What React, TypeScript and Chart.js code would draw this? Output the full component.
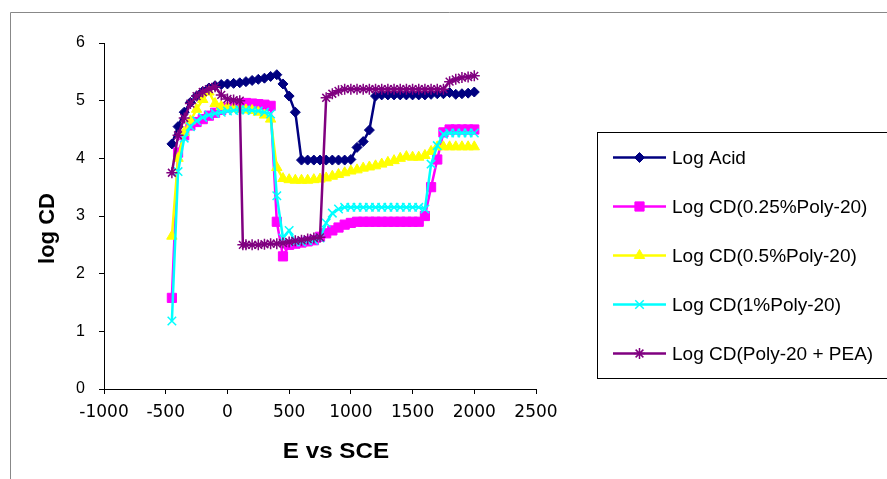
import React, { useEffect, useRef } from 'react';
import { Chart, registerables } from 'chart.js';
import { drawPoint } from 'chart.js/helpers';

Chart.register(...registerables);

// Potential (mV vs SCE) for the first four series
const E = [
  -450, -400, -350, -300, -250, -200, -150, -100, -50, 0,
  50, 100, 150, 200, 250, 300, 350, 400, 450, 500,
  550, 600, 650, 700, 750, 800, 850, 900, 950, 1000,
  1050, 1100, 1150, 1200, 1250, 1300, 1350, 1400, 1450, 1500,
  1550, 1600, 1650, 1700, 1750, 1800, 1850, 1900, 1950, 2000,
];

const LOG_ACID = [
  4.25, 4.55, 4.8, 4.97, 5.08, 5.16, 5.22, 5.26, 5.28, 5.29,
  5.3, 5.31, 5.33, 5.35, 5.37, 5.39, 5.42, 5.45, 5.29, 5.08,
  4.8, 3.97, 3.97, 3.97, 3.97, 3.97, 3.97, 3.97, 3.97, 3.98,
  4.19, 4.29, 4.49, 5.08, 5.1, 5.1, 5.1, 5.1, 5.1, 5.1,
  5.1, 5.1, 5.11, 5.12, 5.12, 5.14, 5.11, 5.12, 5.13, 5.15,
];

const LOG_CD_025 = [
  1.58, 4.1, 4.4, 4.57, 4.63, 4.68, 4.74, 4.79, 4.84, 4.88,
  4.92, 4.95, 4.96, 4.95, 4.94, 4.93, 4.91, 2.9, 2.3, 2.5,
  2.52, 2.54, 2.56, 2.58, 2.64, 2.7, 2.75, 2.8, 2.85, 2.88,
  2.9, 2.9, 2.9, 2.9, 2.9, 2.9, 2.9, 2.9, 2.9, 2.9,
  2.9, 3.0, 3.5, 3.98, 4.45, 4.5, 4.5, 4.5, 4.5, 4.5,
];

const LOG_CD_05 = [
  2.65, 4.0, 4.45, 4.65, 4.85, 5.02, 5.15, 4.95, 4.9, 4.88,
  4.86, 4.85, 4.84, 4.83, 4.8, 4.75, 4.68, 3.84, 3.65, 3.63,
  3.62, 3.62, 3.62, 3.63, 3.64, 3.66, 3.69, 3.72, 3.75, 3.78,
  3.8, 3.83, 3.85, 3.87, 3.9, 3.93, 3.96, 4.0, 4.03, 4.02,
  4.02, 4.05, 4.12, 4.2, 4.2, 4.2, 4.2, 4.2, 4.2, 4.2,
];

const LOG_CD_1 = [
  1.18, 3.77, 4.35, 4.55, 4.65, 4.71, 4.75, 4.78, 4.8, 4.82,
  4.83, 4.84, 4.84, 4.83, 4.82, 4.8, 4.77, 3.35, 2.62, 2.75,
  2.55, 2.55, 2.57, 2.58, 2.62, 2.88, 3.05, 3.12, 3.15, 3.15,
  3.15, 3.15, 3.15, 3.15, 3.15, 3.15, 3.15, 3.15, 3.15, 3.15,
  3.15, 3.12, 3.9, 4.22, 4.42, 4.44, 4.44, 4.44, 4.44, 4.44,
];

// Potential for the Poly-20 + PEA series
const E_PEA = [
  -450, -400, -350, -300, -250, -200, -150, -100, -50, 0,
  50, 100, 125, 150, 200, 250, 300, 350, 400, 450,
  500, 550, 600, 650, 700, 750, 800, 850, 900, 950,
  1000, 1050, 1100, 1150, 1200, 1250, 1300, 1350, 1400, 1450,
  1500, 1550, 1600, 1650, 1700, 1750, 1800, 1850, 1900, 1950,
  2000,
];

const LOG_CD_PEA = [
  3.75, 4.4, 4.7, 4.95, 5.08, 5.15, 5.2, 5.24, 5.1, 5.03,
  5.01, 5.0, 2.5, 2.5, 2.5, 2.5, 2.51, 2.52, 2.52, 2.53,
  2.55, 2.57, 2.58, 2.6, 2.62, 2.63, 5.05, 5.12, 5.17, 5.2,
  5.2, 5.2, 5.2, 5.2, 5.2, 5.2, 5.2, 5.2, 5.2, 5.2,
  5.2, 5.2, 5.2, 5.2, 5.2, 5.2, 5.33, 5.37, 5.4, 5.41,
  5.43,
];

const SERIES_LABELS = [
  'Log Acid',
  'Log CD(0.25%Poly-20)',
  'Log CD(0.5%Poly-20)',
  'Log CD(1%Poly-20)',
  'Log CD(Poly-20 + PEA)',
];

const X_TITLE = 'E vs SCE';
const Y_TITLE = 'log CD';

const SANS = '"Liberation Sans", Arial, sans-serif';

function pts(xs: number[], ys: number[]) {
  return ys.map((y, i) => ({ x: xs[i], y }));
}

const decorPlugin = {
  id: 'decor',
  afterDraw(chart: any) {
    const ctx = chart.ctx as CanvasRenderingContext2D;
    ctx.save();
    // outer frame (gray)
    ctx.strokeStyle = '#888888';
    ctx.lineWidth = 1;
    ctx.beginPath();
    ctx.moveTo(10.5, 480);
    ctx.lineTo(10.5, 12.5);
    ctx.lineTo(890, 12.5);
    ctx.stroke();

    // legend box
    ctx.strokeStyle = '#000000';
    ctx.lineWidth = 1;
    ctx.strokeRect(597.5, 132.5, 300, 246);

    chart.data.datasets.forEach((ds: any, i: number) => {
      const y = 157.5 + i * 49;
      ctx.strokeStyle = ds.borderColor;
      ctx.lineWidth = ds.borderWidth;
      ctx.beginPath();
      ctx.moveTo(613, y);
      ctx.lineTo(666, y);
      ctx.stroke();
      ctx.fillStyle = ds.pointBackgroundColor;
      ctx.strokeStyle = ds.pointBorderColor;
      ctx.lineWidth = ds.pointBorderWidth;
      drawPoint(ctx, {
        pointStyle: ds.pointStyle,
        radius: ds.pointRadius,
        rotation: 0,
        borderWidth: ds.pointBorderWidth,
      } as any, 639.5, y);
      ctx.fillStyle = '#000000';
      ctx.font = '19px ' + SANS;
      ctx.textAlign = 'left';
      ctx.textBaseline = 'alphabetic';
      ctx.fillText(ds.label, 672, y + 6.5);
    });

    // axis titles
    ctx.fillStyle = '#000000';
    ctx.font = 'bold 22px ' + SANS;
    ctx.textAlign = 'center';
    ctx.textBaseline = 'middle';
    ctx.save();
    ctx.translate(336, 451.5);
    ctx.scale(1.1, 1);
    ctx.fillText(X_TITLE, 0, 0);
    ctx.restore();
    ctx.save();
    ctx.translate(47.5, 228.5);
    ctx.rotate(-Math.PI / 2);
    ctx.fillText(Y_TITLE, 0, 0);
    ctx.restore();
    ctx.restore();
  },
};

function makeDataset(label: string, xs: number[], ys: number[], color: string, style: string, radius: number, bw: number, order: number) {
  return {
    label,
    data: pts(xs, ys),
    borderColor: color,
    backgroundColor: color,
    pointBackgroundColor: color,
    pointBorderColor: color,
    pointStyle: style,
    pointRadius: radius,
    pointBorderWidth: bw,
    borderWidth: 2.5,
    tension: 0,
    fill: false,
    order,
  };
}

export default function App() {
  const ref = useRef<HTMLCanvasElement | null>(null);
  useEffect(() => {
    if (!ref.current) return;
    const chart = new Chart(ref.current, {
      type: 'line',
      data: {
        datasets: [
          makeDataset(SERIES_LABELS[0], E, LOG_ACID, '#000080', 'rectRot', 5, 1, 5),
          makeDataset(SERIES_LABELS[1], E, LOG_CD_025, '#FF00FF', 'rect', 6.5, 1, 4),
          makeDataset(SERIES_LABELS[2], E, LOG_CD_05, '#FFFF00', 'triangle', 6, 1, 3),
          makeDataset(SERIES_LABELS[3], E, LOG_CD_1, '#00FFFF', 'crossRot', 6, 1.5, 2),
          makeDataset(SERIES_LABELS[4], E_PEA, LOG_CD_PEA, '#800080', 'star', 5.5, 1.5, 1),
        ] as any,
      },
      options: {
        animation: false,
        responsive: false,
        layout: { padding: { left: 0, top: 43, right: 351, bottom: 0 } },
        plugins: { legend: { display: false }, tooltip: { enabled: false } },
        scales: {
          x: {
            type: 'linear',
            min: -1000,
            max: 2500,
            afterFit: (s: any) => { s.height = 90; },
            ticks: {
              stepSize: 500,
              autoSkip: false,
              maxRotation: 0,
              minRotation: 0,
              padding: 8,
              color: '#000000',
              font: { family: '"DejaVu Sans", sans-serif', size: 17 },
              callback: (v: any) => String(v),
            },
            grid: { drawOnChartArea: false, color: '#000000', tickLength: 5 },
            border: { color: '#000000', width: 1 },
          },
          y: {
            type: 'linear',
            min: 0,
            max: 6,
            afterFit: (s: any) => { s.width = 104; },
            ticks: {
              stepSize: 1,
              padding: 14,
              color: '#000000',
              font: { family: SANS, size: 16 },
              callback: (v: any) => String(v),
            },
            grid: { drawOnChartArea: false, color: '#000000', tickLength: 5 },
            border: { color: '#000000', width: 1 },
          },
        },
      } as any,
      plugins: [decorPlugin],
    });
    return () => chart.destroy();
  }, []);
  return (
    <div style={{ position: 'fixed', left: 0, top: 0, width: 887, height: 479, background: '#ffffff' }}>
      <canvas ref={ref} width={887} height={479} style={{ display: 'block' }} />
    </div>
  );
}
